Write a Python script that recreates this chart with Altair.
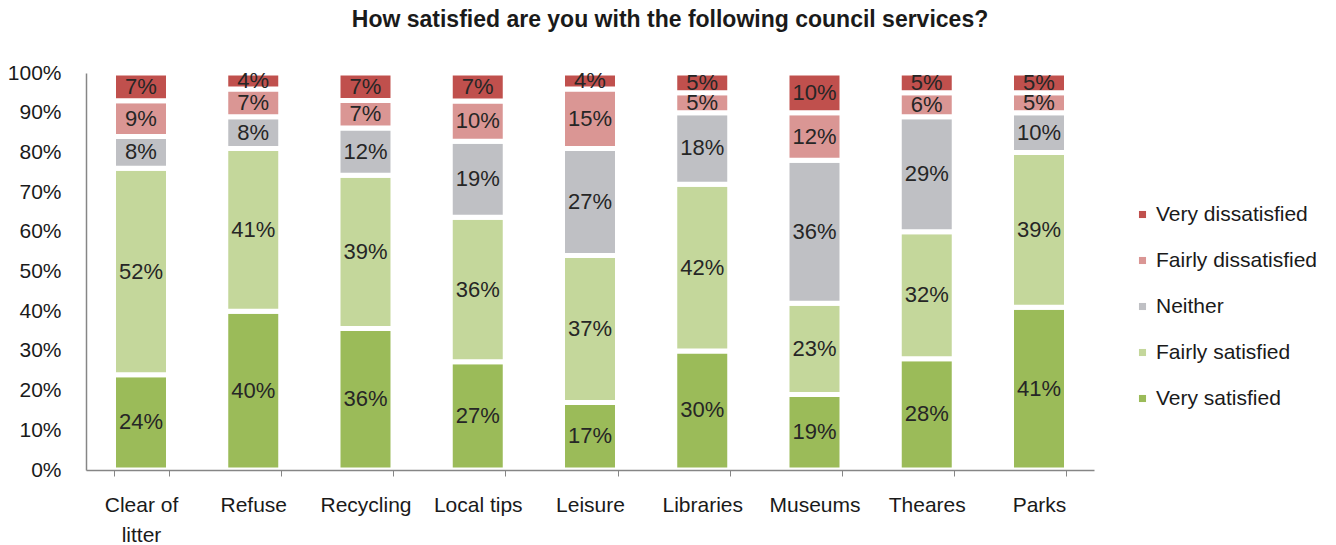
import altair as alt
import pandas as pd

services = ["Clear of litter", "Refuse", "Recycling", "Local tips", "Leisure",
            "Libraries", "Museums", "Theares", "Parks"]
levels = ["Very dissatisfied", "Fairly dissatisfied", "Neither",
          "Fairly satisfied", "Very satisfied"]
colors = ["#C0504D", "#DA9694", "#BFC0C4", "#C4D79B", "#9BBB59"]

very_satisfied = [24, 40, 36, 27, 17, 30, 19, 28, 41]
fairly_satisfied = [52, 41, 39, 36, 37, 42, 23, 32, 39]
neither = [8, 8, 12, 19, 27, 18, 36, 29, 10]
fairly_dissatisfied = [9, 7, 7, 10, 15, 5, 12, 6, 5]
very_dissatisfied = [7, 4, 7, 7, 4, 5, 10, 5, 5]
y_ticks = [0.0, 0.1, 0.2, 0.3, 0.4, 0.5, 0.6, 0.7, 0.8, 0.9, 1.0]

series = {
    "Very satisfied": very_satisfied,
    "Fairly satisfied": fairly_satisfied,
    "Neither": neither,
    "Fairly dissatisfied": fairly_dissatisfied,
    "Very dissatisfied": very_dissatisfied,
}
# stacking order: bottom (0) to top (4)
rank = {"Very satisfied": 0, "Fairly satisfied": 1, "Neither": 2,
        "Fairly dissatisfied": 3, "Very dissatisfied": 4}

rows = []
for level, vals in series.items():
    for s, v in zip(services, vals):
        rows.append({"service": s, "level": level, "value": v, "rank": rank[level]})
df = pd.DataFrame(rows)

FONT = "Liberation Sans"

base = alt.Chart(df).transform_joinaggregate(
    total="sum(value)", groupby=["service"]
).transform_calculate(
    pct="datum.value / datum.total"
).transform_stack(
    stack="pct", as_=["y0", "y1"], groupby=["service"],
    sort=[alt.SortField("rank", order="ascending")]
).transform_calculate(
    ymid="(datum.y0 + datum.y1) / 2",
    label="datum.value + '%'"
)

x_axis = alt.Axis(
    labelExpr="datum.label == 'Clear of litter' ? ['Clear of', 'litter'] : datum.label",
    labelAngle=0, labelFontSize=21, labelFont=FONT, labelColor="#1a1a1a",
    labelPadding=18, labelLineHeight=30, labelBaseline="top",
    tickBand="extent", tickSize=6, tickColor="#868686",
    domainColor="#868686", domainWidth=1.5, grid=False, zindex=1,
)
x_scale = alt.Scale(paddingInner=0.51, paddingOuter=0.245)

y_axis = alt.Axis(
    format=".0%", values=y_ticks,
    labelFontSize=21, labelFont=FONT, labelColor="#1a1a1a",
    labelPadding=25, ticks=False, grid=False, labelOverlap=False,
    labelFlush=False, domainColor="#868686", domainWidth=1.5, zindex=1,
)
y_scale = alt.Scale(domain=[0, 1], nice=False)

bars = base.mark_bar(stroke="white", strokeWidth=5).encode(
    x=alt.X("service:N", sort=services, title=None, scale=x_scale, axis=x_axis),
    y=alt.Y("y0:Q", title=None, scale=y_scale, axis=y_axis),
    y2="y1:Q",
    color=alt.Color(
        "level:N", scale=alt.Scale(domain=levels, range=colors),
        legend=alt.Legend(
            title=None, orient="none", legendX=1046, legendY=131,
            symbolType="square", symbolSize=50, symbolStrokeWidth=0,
            labelFontSize=21, labelFont=FONT, labelColor="#1a1a1a",
            rowPadding=24, labelOffset=3, labelLimit=0,
        ),
    ),
)

labels = base.mark_text(fontSize=22, font=FONT, color="#262626").encode(
    x=alt.X("service:N", sort=services, title=None, scale=x_scale, axis=x_axis),
    y=alt.Y("ymid:Q", title=None, scale=y_scale, axis=y_axis),
    text="label:N",
)

chart = alt.layer(bars, labels).properties(
    width=1008, height=397,
    autosize=alt.AutoSizeParams(type="none"),
    padding={"left": 86, "top": 73, "right": 242, "bottom": 75},
    title=alt.TitleParams(
        "How satisfied are you with the following council services?",
        fontSize=23, font=FONT, fontWeight="bold", color="#1a1a1a",
        anchor="middle", dx=80, offset=30,
    ),
).configure_view(stroke=None)

chart.save("out.html", embed_options={"renderer": "svg", "actions": False})
